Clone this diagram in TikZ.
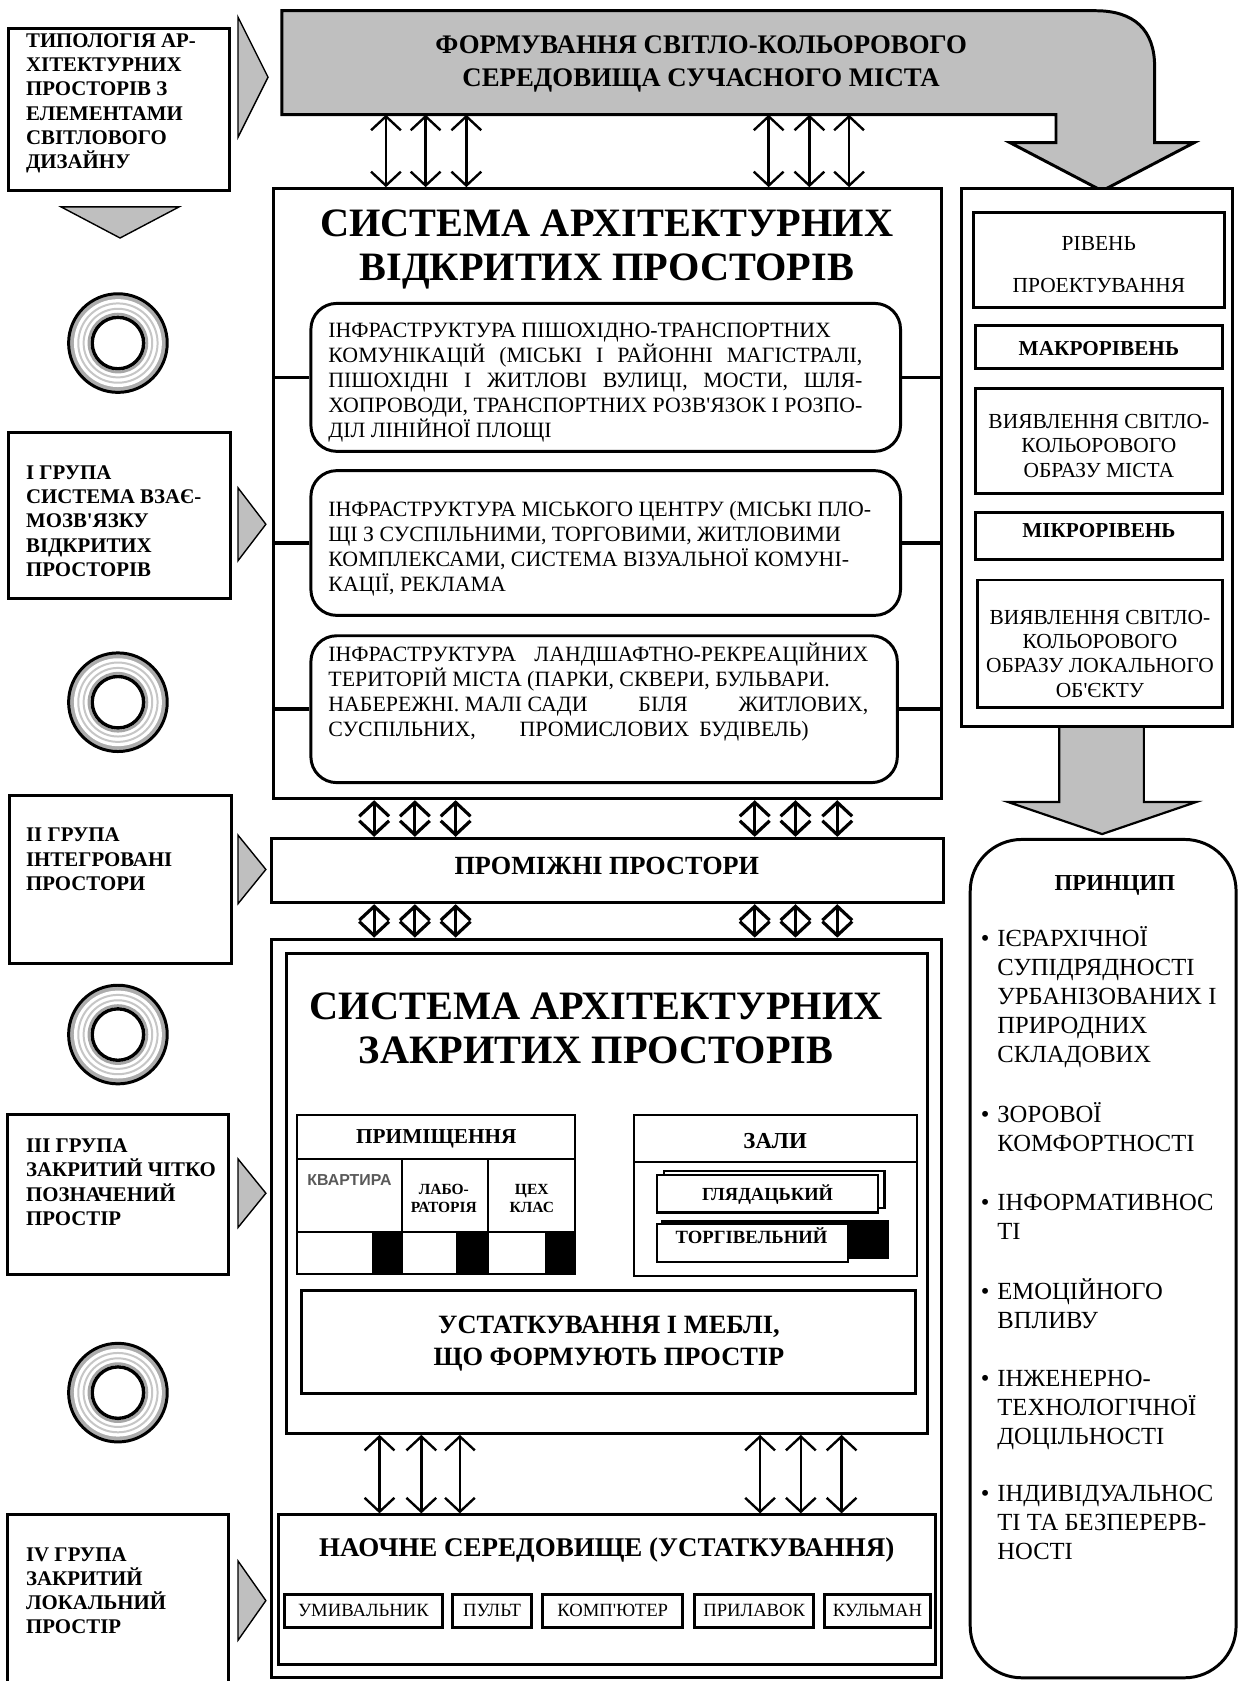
\documentclass[tikz,border=0pt]{standalone}
\usepackage{fontspec}
\setmainfont{Liberation Serif}
\setsansfont{Liberation Sans}
\usetikzlibrary{arrows.meta, positioning, fit}

\newcommand{\fsz}[2]{\fontsize{#1pt}{#2pt}\selectfont}
\newcommand{\apos}{\textquotesingle}

\begin{document}
\begin{tikzpicture}[x=0.54pt, y=-0.54pt,
    box/.style={draw, line width=1.5pt, fill=white, inner sep=0pt},
    thinbox/.style={draw, line width=1.1pt, fill=white, inner sep=0pt},
    rbox/.style={box, rounded corners=13pt},
    txt/.style={anchor=north west, inner sep=0pt, align=left},
    grp/.style={txt, font=\bfseries\fsz{10.5}{12.2}},
    infra/.style={txt, font=\fsz{11}{12.6}},
    princitem/.style={txt, font=\fsz{12.4}{14.6}},
    bigtitle/.style={align=center, font=\bfseries\fsz{20.3}{22.1}},
    dblarrow/.style={{Straight Barb[length=7pt,width=15pt]}-{Straight Barb[length=7pt,width=15pt]},
                     line width=1.2pt},
    shortarrow/.style={dblarrow, line width=1.6pt},
    tri/.style={draw, line width=0.7pt, fill=gray!50},
    stub/.style={line width=1.8pt}
  ]
  \useasboundingbox (0,0) rectangle (1157,1568);

  % top bar, bent down into the levels column
  \draw[line width=1.5pt, fill=gray!50] (263,107) -- (263,10) -- (1022,10)
      .. controls (1058,10) and (1077,28) .. (1077,62) -- (1077,133)
      -- (1114,133) -- (1028,178) -- (942,133) -- (985,133) -- (985,107) -- cycle;
  \coordinate (barbase) at (263,107);
  \node[align=center, font=\bfseries\fsz{13.5}{16.7}] (form) at (654,60)
      {ФОРМУВАННЯ СВІТЛО-КОЛЬОРОВОГО\\СЕРЕДОВИЩА СУЧАСНОГО МІСТА};

  % left column: typology and groups
  \node[box, fit={(8,27) (214,178)}] (typ) {};
  \node[grp] (typtxt) at (24,31)
      {ТИПОЛОГІЯ АР-\\ХІТЕКТУРНИХ\\ПРОСТОРІВ З\\ЕЛЕМЕНТАМИ\\СВІТЛОВОГО\\ДИЗАЙНУ};
  \node[box, fit={(8,403) (215,558)}] (grI) {};
  \node[grp] (grItxt) at (24,434)
      {І ГРУПА\\СИСТЕМА ВЗАЄ-\\МОЗВ\apos ЯЗКУ\\ВІДКРИТИХ\\ПРОСТОРІВ};
  \node[box, fit={(9,742) (216,899)}] (grII) {};
  \node[grp] (grIItxt) at (24,772) {ІІ ГРУПА\\ІНТЕГРОВАНІ\\ПРОСТОРИ};
  \node[box, fit={(7,1040) (213,1189)}] (grIII) {};
  \node[grp] (grIIItxt) at (24,1062) {ІІІ ГРУПА\\ЗАКРИТИЙ ЧІТКО\\ПОЗНАЧЕНИЙ\\ПРОСТІР};
  \node[box, fit={(7,1413) (213,1600)}] (grIV) {};
  \node[grp] (grIVtxt) at (24,1443) {IV ГРУПА\\ЗАКРИТИЙ\\ЛОКАЛЬНИЙ\\ПРОСТІР};

  \draw[tri] (57,193) -- (167,193) -- (112,222) -- cycle;
  \foreach \yc/\h/\ax in {72/56/250, 489/34/248, 811/32/248, 1113/32/248, 1493/37/248}
    \draw[tri] (222,\yc-\h) -- (\ax,\yc) -- (222,\yc+\h) -- cycle;

  \foreach \yc [count=\i] in {320,655,965,1299} {
    \coordinate (ring\i) at (110,\yc);
    \fill[gray!65] (ring\i) circle[radius=46];
    \fill[white] (ring\i) circle[radius=41];
    \draw[gray!45, line width=1pt] (ring\i) circle[radius=37];
    \draw[gray!45, line width=1pt] (ring\i) circle[radius=32];
    \draw[gray!70, line width=1.4pt] (ring\i) circle[radius=27];
    \draw[line width=1.7pt] (ring\i) circle[radius=24];
    \draw[line width=1.5pt] (ring\i) circle[radius=46];
  }

  % open spaces
  \node[box, fit={(255,176) (878,745)}] (open) {};
  \node[bigtitle] (opentitle) at (566,233) {СИСТЕМА АРХІТЕКТУРНИХ\\ВІДКРИТИХ ПРОСТОРІВ};
  \node[rbox, fit={(290,283) (840,421)}] (inf1) {};
  \node[infra] (inf1txt) at (306,301)
      {ІНФРАСТРУКТУРА ПІШОХІДНО-ТРАНСПОРТНИХ\\
       \makebox[269pt][s]{КОМУНІКАЦІЙ (МІСЬКІ І РАЙОННІ МАГІСТРАЛІ,}\\
       \makebox[269pt][s]{ПІШОХІДНІ І ЖИТЛОВІ ВУЛИЦІ, МОСТИ, ШЛЯ-}\\
       \makebox[269pt][s]{ХОПРОВОДИ, ТРАНСПОРТНИХ РОЗВ\apos ЯЗОК І РОЗПО-}\\
       ДІЛ ЛІНІЙНОЇ ПЛОЩІ};
  \node[rbox, fit={(290,439) (840,574)}] (inf2) {};
  \node[infra] (inf2txt) at (306,467)
      {ІНФРАСТРУКТУРА МІСЬКОГО ЦЕНТРУ (МІСЬКІ ПЛО-\\
       ЩІ З СУСПІЛЬНИМИ, ТОРГОВИМИ, ЖИТЛОВИМИ\\
       КОМПЛЕКСАМИ, СИСТЕМА ВІЗУАЛЬНОЇ КОМУНІ-\\
       КАЦІЇ, РЕКЛАМА};
  \node[rbox, fit={(290,593) (837,730)}] (inf3) {};
  \node[infra] (inf3txt) at (306,599)
      {\makebox[272pt][l]{ІНФРАСТРУКТУРА\hfill ЛАНДШАФТНО-РЕКРЕАЦІЙНИХ}\\
       ТЕРИТОРІЙ МІСТА (ПАРКИ, СКВЕРИ, БУЛЬВАРИ.\\
       \makebox[272pt][l]{НАБЕРЕЖНІ. МАЛІ САДИ\hfill БІЛЯ\hfill ЖИТЛОВИХ,}\\
       СУСПІЛЬНИХ,\hspace{22pt}ПРОМИСЛОВИХ\hspace{5pt}БУДІВЕЛЬ)};
  \foreach \r in {inf1,inf2,inf3} {
    \draw[stub] (\r.west) -- (\r.west -| open.west);
    \draw[stub] (\r.east) -- (\r.east -| open.east);
  }
  \foreach \x in {360,397,435,717,755,792}
    \draw[dblarrow] (\x,0 |- barbase) -- (\x,0 |- open.north);

  % intermediate and closed spaces
  \node[box, fit={(253,782) (880,842)}] (inter) {};
  \node[font=\bfseries\fsz{13.2}{15}] (intertxt) at (566,808) {ПРОМІЖНІ ПРОСТОРИ};
  \node[box, fit={(253,876) (878,1565)}] (closed) {};
  \foreach \x in {349,387,425,704,742,781} {
    \draw[shortarrow] (\x,0 |- open.south) -- (\x,0 |- inter.north);
    \draw[shortarrow] (\x,0 |- inter.south) -- (\x,0 |- closed.north);
  }
  \node[box, fit={(267,889) (865,1337)}] (closedin) {};
  \node[bigtitle] (closedtitle) at (556,959) {СИСТЕМА АРХІТЕКТУРНИХ\\ЗАКРИТИХ ПРОСТОРІВ};

  \node[thinbox, fit={(277,1040) (536,1081)}] (rooms) {};
  \node[font=\bfseries\fsz{10.7}{12}] (roomstxt) at (407,1062) {ПРИМІЩЕННЯ};
  \node[thinbox, fit={(277,1081) (375,1149)}] (flat) {};
  \node[thinbox, fit={(375,1081) (455,1149)}] (lab) {};
  \node[thinbox, fit={(455,1081) (536,1149)}] (shop) {};
  \foreach \nm/\xa/\xb/\xc in {flat/277/347/375, lab/375/425/455, shop/455/508/536} {
    \node[thinbox, fit={(\xa,1149) (\xc,1188)}] (\nm bot) {};
    \node[fill=black, inner sep=0pt, fit={(\xb,1149) (\xc,1188)}] (\nm blk) {};
  }
  \node[font=\sffamily\bfseries\fsz{8}{9}, text=black!65] (flattxt) at (326,1101) {КВАРТИРА};
  \node[align=center, font=\bfseries\fsz{7.8}{9.2}] (labtxt) at (414,1118) {ЛАБО-\\РАТОРІЯ};
  \node[align=center, font=\bfseries\fsz{7.8}{9.2}] (shoptxt) at (496,1118) {ЦЕХ\\КЛАС};

  \node[thinbox, fit={(591,1040) (855,1190)}] (halls) {};
  \node[thinbox, fit={(591,1040) (855,1084)}] (hallshead) {};
  \node[font=\bfseries\fsz{11.5}{13}] (hallstxt) at (723,1064) {ЗАЛИ};
  \node[thinbox, fit={(619,1092) (825,1127)}] (viewsh) {};
  \node[thinbox, fit={(613,1096) (819,1131)}] (view) {};
  \node[font=\bfseries\fsz{9.3}{10}] (viewtxt) at (716,1114) {ГЛЯДАЦЬКИЙ};
  \node[fill=black, inner sep=0pt, fit={(617,1138) (829,1174)}] (tradesh) {};
  \node[thinbox, fit={(613,1142) (791,1177)}] (trade) {};
  \node[font=\bfseries\fsz{9.4}{10}] (tradetxt) at (701,1153) {ТОРГІВЕЛЬНИЙ};

  \node[box, fit={(281,1204) (854,1300)}] (furn) {};
  \node[align=center, font=\bfseries\fsz{13.3}{16.2}] (furntxt) at (568,1253)
      {УСТАТКУВАННЯ І МЕБЛІ,\\ЩО ФОРМУЮТЬ ПРОСТІР};

  % object environment
  \node[box, fit={(260,1413) (873,1553)}] (objenv) {};
  \node[font=\bfseries\fsz{13.6}{15}] (objtitle) at (566,1446) {НАОЧНЕ СЕРЕДОВИЩЕ (УСТАТКУВАННЯ)};
  \foreach \nm/\xa/\xb/\t in {sink/265/413/УМИВАЛЬНИК, desk/422/496/ПУЛЬТ,
                              pc/506/637/КОМП\apos ЮТЕР, counter/648/759/ПРИЛАВОК,
                              board/769/868/КУЛЬМАН} {
    \node[box, fit={(\xa,1487) (\xb,1518)}] (\nm) {};
    \node[font=\fsz{9.4}{10}] (\nm lbl) at (\nm.center) {\t};
  }
  \foreach \x in {354,393,429,709,747,785}
    \draw[dblarrow] (\x,0 |- closedin.south) -- (\x,0 |- objenv.north);

  % right column: design levels
  \node[box, fit={(897,176) (1150,678)}] (levels) {};
  \node[box, fit={(908,198) (1142,287)}] (design) {};
  \node[align=center, font=\fsz{10.8}{12.2}] (designtxt) at (1025,247)
      {РІВЕНЬ\\[8.8pt]ПРОЕКТУВАННЯ};
  \node[box, fit={(910,304) (1140,344)}] (macro) {};
  \node[font=\bfseries\fsz{10.7}{12}] (macrotxt) at (1025,325) {МАКРОРІВЕНЬ};
  \node[box, fit={(910,362) (1140,460)}] (macroimg) {};
  \node[align=center, font=\fsz{10.8}{12.3}] (macroimgtxt) at (1025,416)
      {ВИЯВЛЕННЯ СВІТЛО-\\КОЛЬОРОВОГО\\ОБРАЗУ МІСТА};
  \node[box, fit={(910,478) (1140,522)}] (micro) {};
  \node[font=\bfseries\fsz{10.7}{12}] (microtxt) at (1025,495) {МІКРОРІВЕНЬ};
  \node[box, fit={(912,541) (1140,660)}] (microimg) {};
  \node[align=center, font=\fsz{10.8}{12.1}] (microimgtxt) at (1026,610)
      {ВИЯВЛЕННЯ СВІТЛО-\\КОЛЬОРОВОГО\\ОБРАЗУ ЛОКАЛЬНОГО\\ОБ\apos ЄКТУ};
  \draw[tri, line width=1.1pt] (988,678) -- (988,748) -- (940,748) -- (1028,778)
      -- (1116,748) -- (1067,748) -- (1067,678) -- cycle;

  % principles
  \node[draw, line width=1.5pt, rounded corners=26pt, inner sep=0pt,
        fit={(905,783) (1153,1565)}] (princ) {};
  \node[font=\bfseries\fsz{11.5}{13}] (princtitle) at (1040,826) {ПРИНЦИП};
  \foreach \nm/\yc/\t in {
      hier/864/{ІЄРАРХІЧНОЇ\\СУПІДРЯДНОСТІ\\УРБАНІЗОВАНИХ І\\ПРИРОДНИХ\\СКЛАДОВИХ},
      visual/1028/{ЗОРОВОЇ\\КОМФОРТНОСТІ},
      info/1114/{ІНФОРМАТИВНОС\\ТІ},
      emot/1192/{ЕМОЦІЙНОГО\\ВПЛИВУ},
      tech/1278/{ІНЖЕНЕРНО-\\ТЕХНОЛОГІЧНОЇ\\ДОЦІЛЬНОСТІ},
      indiv/1385/{ІНДИВІДУАЛЬНОС\\ТІ ТА БЕЗПЕРЕРВ-\\НОСТІ}}
    \node[princitem] (\nm) at (930,\yc) {\llap{\textbullet\hspace{4pt}}\t};
\end{tikzpicture}
\end{document}
